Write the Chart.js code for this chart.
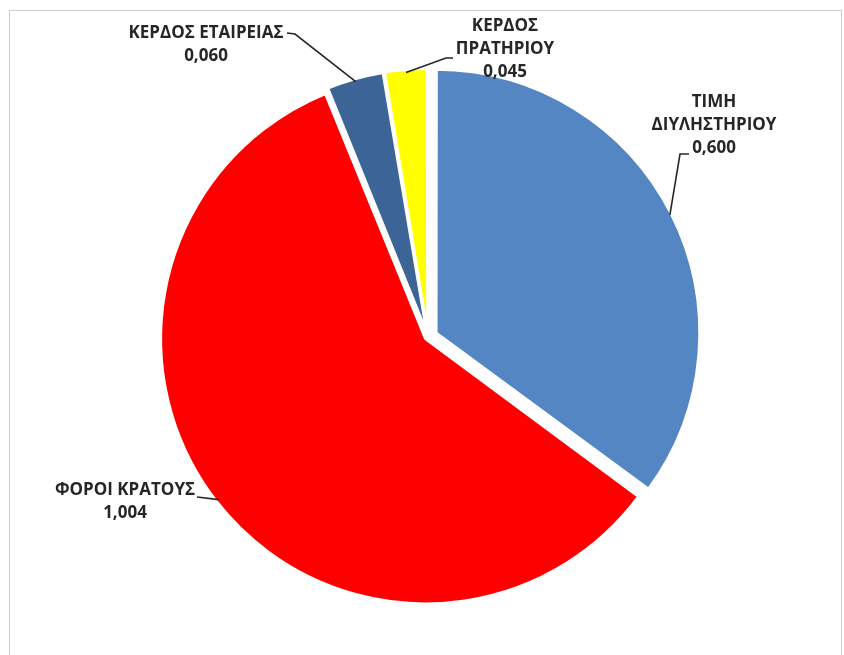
<!DOCTYPE html>
<html>
<head>
<meta charset="utf-8">
<script src="https://cdn.jsdelivr.net/npm/chart.js@4"></script>
<style>
  html, body { margin: 0; padding: 0; background: #fff; }
  #frame {
    position: absolute; left: 9px; top: 10px; width: 833px; height: 700px;
    border: 1px solid #cfcfcf; box-sizing: border-box;
  }
  #pie { position: absolute; left: 0; top: 0; }
</style>
</head>
<body>
<div id="frame"></div>
<canvas id="pie" width="844" height="655"></canvas>
<script>
const categories = ['ΤΙΜΗ ΔΙΥΛΗΣΤΗΡΙΟΥ', 'ΦΟΡΟΙ ΚΡΑΤΟΥΣ', 'ΚΕΡΔΟΣ ΕΤΑΙΡΕΙΑΣ', 'ΚΕΡΔΟΣ ΠΡΑΤΗΡΙΟΥ'];
const values = [0.600, 1.004, 0.060, 0.045];
const colors = ['#5586c4', '#ff0000', '#3c6496', '#ffff00'];
// chart.js moves a slice by offset/4 px
const offsets = [36, 12, 14, 14];

// where each label sits and how its leader line bends
const labelLayout = [
  { split: true,  x: 714, y: 102, path: [[680, 154], [689, 154]] },
  { split: false, x: 125, y: 490, path: [[197, 497]] },
  { split: false, x: 206, y: 33,  path: [[295, 34], [287, 33]] },
  { split: true,  x: 505, y: 26,  path: [[446, 58], [453, 58]] }
];

const fmt = v => v.toFixed(3).replace('.', ',');

const pieLabels = {
  id: 'pieLabels',
  afterDraw(chart) {
    const ctx = chart.ctx;
    const arcs = chart.getDatasetMeta(0).data;
    ctx.save();
    arcs.forEach((arc, i) => {
      const lay = labelLayout[i];
      const p = arc.getProps(['x', 'y', 'startAngle', 'endAngle', 'outerRadius']);
      const mid = (p.startAngle + p.endAngle) / 2;
      const off = arc.options.offset / 4;
      const ax = p.x + Math.cos(mid) * (p.outerRadius + off);
      const ay = p.y + Math.sin(mid) * (p.outerRadius + off);

      ctx.strokeStyle = '#262626';
      ctx.lineWidth = 1.6;
      ctx.beginPath();
      ctx.moveTo(ax, ay);
      lay.path.forEach(pt => ctx.lineTo(pt[0], pt[1]));
      ctx.stroke();

      const lines = lay.split ? categories[i].split(' ') : [categories[i]];
      lines.push(fmt(values[i]));
      ctx.fillStyle = '#262626';
      ctx.font = 'bold 17px "Open Sans", sans-serif';
      ctx.textAlign = 'center';
      ctx.textBaseline = 'middle';
      lines.forEach((t, k) => ctx.fillText(t, lay.x, lay.y + k * 23));
    });
    ctx.restore();
  }
};

new Chart(document.getElementById('pie'), {
  type: 'pie',
  data: {
    labels: categories,
    datasets: [{
      data: values,
      backgroundColor: colors,
      borderColor: '#ffffff',
      borderWidth: 3,
      offset: offsets
    }]
  },
  options: {
    responsive: false,
    animation: false,
    radius: 262,
    layout: { padding: { left: 12, right: 0, top: 19, bottom: 0 } },
    plugins: {
      legend: { display: false },
      tooltip: { enabled: false }
    }
  },
  plugins: [pieLabels]
});
</script>
</body>
</html>
